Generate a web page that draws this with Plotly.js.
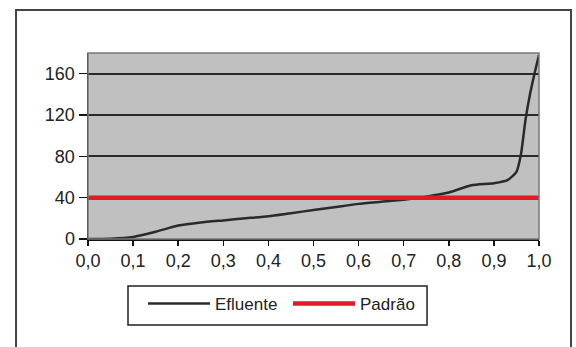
<!DOCTYPE html>
<html>
<head>
<meta charset="utf-8">
<script src="https://cdn.plot.ly/plotly-3.0.1.min.js"></script>
<style>html,body{margin:0;padding:0;background:#fff;}#chart{width:576px;height:347px;}</style>
</head>
<body>
<div id="chart"></div>
<script>
var efluenteX = [0, 0.05, 0.1, 0.15, 0.2, 0.25, 0.3, 0.35, 0.4, 0.45, 0.5, 0.55, 0.6, 0.65, 0.7, 0.75, 0.8, 0.85, 0.9, 0.93, 0.95, 0.96, 0.97, 0.98, 0.99, 1.0];
var efluenteY = [0, 0.3, 2, 7, 13, 16, 18, 20, 22, 25, 28, 31, 34, 36, 38, 41, 45, 52, 54, 57, 65, 82, 115, 140, 160, 178];
var padraoX = [0, 1];
var padraoY = [40, 40];
var seriesNames = ["Efluente", "Padrão"];
var xTicks = [0, 0.1, 0.2, 0.3, 0.4, 0.5, 0.6, 0.7, 0.8, 0.9, 1.0];
var yTicks = [0, 40, 80, 120, 160];

var font = "'Liberation Sans', Arial, sans-serif";
var traces = [
  {x: efluenteX, y: efluenteY, name: seriesNames[0], mode: "lines",
   line: {color: "#2a2a2a", width: 2.5, shape: "spline", smoothing: 0.6}},
  {x: padraoX, y: padraoY, name: seriesNames[1], mode: "lines",
   line: {color: "#e01b24", width: 4.5}}
];
var layout = {
  width: 576, height: 347,
  margin: {l: 88, r: 37, t: 53, b: 108, autoexpand: false},
  paper_bgcolor: "#ffffff",
  plot_bgcolor: "#c0c0c0",
  separators: ", ",
  font: {family: font, size: 18, color: "#222"},
  showlegend: true,
  xaxis: {range: [0, 1], tickvals: xTicks, tickformat: ".1f", showgrid: false, zeroline: false,
          showline: true, linecolor: "#111", linewidth: 1.5, ticks: "outside", ticklen: 5,
          tickcolor: "#111", tickwidth: 1.5, fixedrange: true},
  yaxis: {range: [0, 180], tickvals: yTicks, showgrid: true, gridcolor: "#2a2a2a", gridwidth: 2,
          zeroline: false, showline: true, linecolor: "#111", linewidth: 1.5, ticks: "outside",
          ticklen: 8, tickcolor: "#111", tickwidth: 1.5, fixedrange: true},
  legend: {orientation: "h", x: 0.122, y: -0.2527, xanchor: "left", yanchor: "top",
           borderwidth: 0, bgcolor: "rgba(0,0,0,0)",
           font: {family: font, size: 17, color: "#222"}, itemwidth: 62,
           entrywidth: 68, entrywidthmode: "pixels", tracegroupgap: 0},
  shapes: [
    {type: "rect", xref: "paper", yref: "paper", x0: 0, x1: 1, y0: 0, y1: 1,
     line: {color: "#777", width: 1.5}, layer: "above"},
    {type: "rect", xref: "paper", yref: "paper", x0: -0.1596, x1: 1.071, y0: -0.597, y1: 1.231,
     line: {color: "#444", width: 2}},
    {type: "rect", xref: "paper", yref: "paper", x0: 0.0887, x1: 0.7517, y0: -0.4624, y1: -0.2527,
     line: {color: "#222", width: 1.5}}
  ]
};
Plotly.newPlot("chart", traces, layout, {displayModeBar: false, staticPlot: true});
</script>
</body>
</html>
